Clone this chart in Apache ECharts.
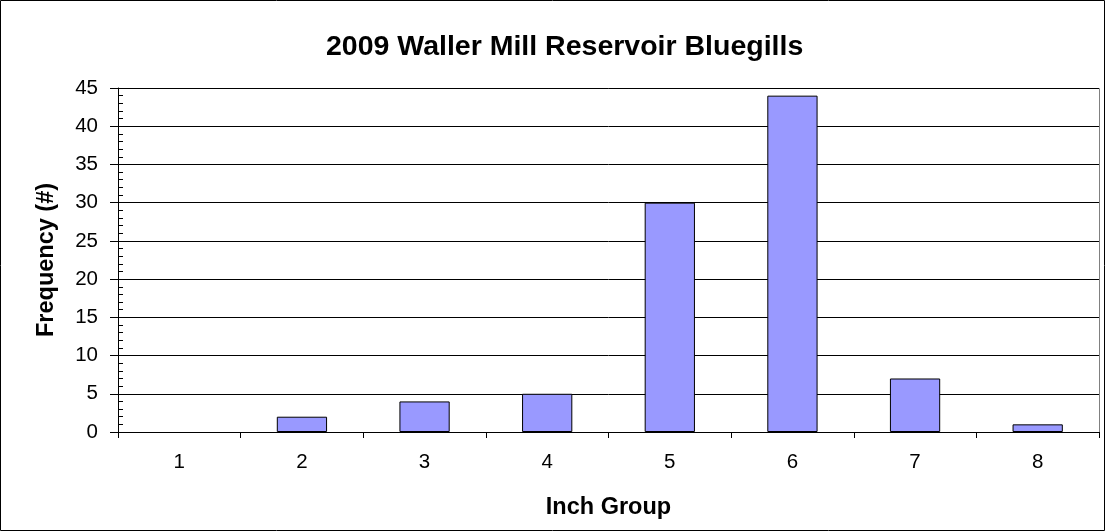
<!DOCTYPE html>
<html>
<head>
<meta charset="utf-8">
<script src="https://cdn.jsdelivr.net/npm/echarts@6/dist/echarts.min.js"></script>
<style>
  html, body { margin: 0; padding: 0; background: #fff; }
  #chart { width: 1105px; height: 531px; }
</style>
</head>
<body>
<div id="chart"></div>
<script>
// inch groups and fish counts
const inchGroups = ['1', '2', '3', '4', '5', '6', '7', '8']
const frequency = [0, 2, 4, 5, 30, 44, 7, 1]

const chart = echarts.init(document.getElementById('chart'))

const font = 'Arial, "Liberation Sans", sans-serif'

chart.setOption({
    animation: false,
    title: {
        text: '2009 Waller Mill Reservoir Bluegills',
        left: 321,
        top: 28,
        textStyle: {
            fontFamily: font,
            fontSize: 28.5,
            fontWeight: 'bold',
            color: '#000'
        }
    },
    graphic: [{
        type: 'rect',
        shape: { x: 0.5, y: 0.5, width: 1104, height: 530 },
        style: { fill: 'none', stroke: '#000', lineWidth: 1 },
        silent: true
    }, {
        // plot border (top / right in gray)
        type: 'polyline',
        shape: { points: [[118, 88.5], [1099.5, 88.5], [1099.5, 432]] },
        style: { stroke: '#808080', lineWidth: 1, fill: 'none' },
        silent: true
    }],
    grid: {
        left: 118,
        right: 6,
        top: 88,
        bottom: 99
    },
    xAxis: {
        type: 'category',
        data: inchGroups,
        name: 'Inch Group',
        nameLocation: 'middle',
        nameGap: 64,
        nameTextStyle: {
            fontFamily: font,
            fontSize: 23.5,
            fontWeight: 'bold',
            color: '#000'
        },
        axisLine: { lineStyle: { color: '#000', width: 1 } },
        axisTick: { show: true, alignWithLabel: false, length: 6, lineStyle: { color: '#000' } },
        axisLabel: {
            margin: 20,
            fontFamily: font,
            fontSize: 20.5,
            color: '#000'
        }
    },
    yAxis: [{
        type: 'value',
        min: 0,
        max: 45,
        interval: 5,
        name: 'Frequency (#)',
        nameLocation: 'middle',
        nameGap: 59,
        nameRotate: 90,
        nameTextStyle: {
            fontFamily: font,
            fontSize: 23.5,
            fontWeight: 'bold',
            color: '#000'
        },
        axisLine: { show: true, lineStyle: { color: '#000', width: 1 } },
        axisTick: { show: true, length: 8, lineStyle: { color: '#000' } },
        axisLabel: {
            margin: 20,
            fontFamily: font,
            fontSize: 20.5,
            color: '#000'
        },
        splitLine: { show: true, lineStyle: { color: '#000', width: 1 } }
    }, {
        // minor ticks, drawn inside the plot
        type: 'value',
        position: 'left',
        min: 0,
        max: 45,
        interval: 1,
        axisLine: { show: false },
        axisTick: { show: true, inside: true, length: 5, lineStyle: { color: '#000' } },
        axisLabel: { show: false },
        splitLine: { show: false }
    }],
    series: [{
        type: 'bar',
        // empty groups get no outline
        data: frequency.map(v => ({
            value: v,
            itemStyle: v === 0 ? { borderWidth: 0 } : {}
        })),
        barWidth: '41%',
        itemStyle: {
            color: '#9999FF',
            borderColor: '#000',
            borderWidth: 1
        }
    }]
})
</script>
</body>
</html>
